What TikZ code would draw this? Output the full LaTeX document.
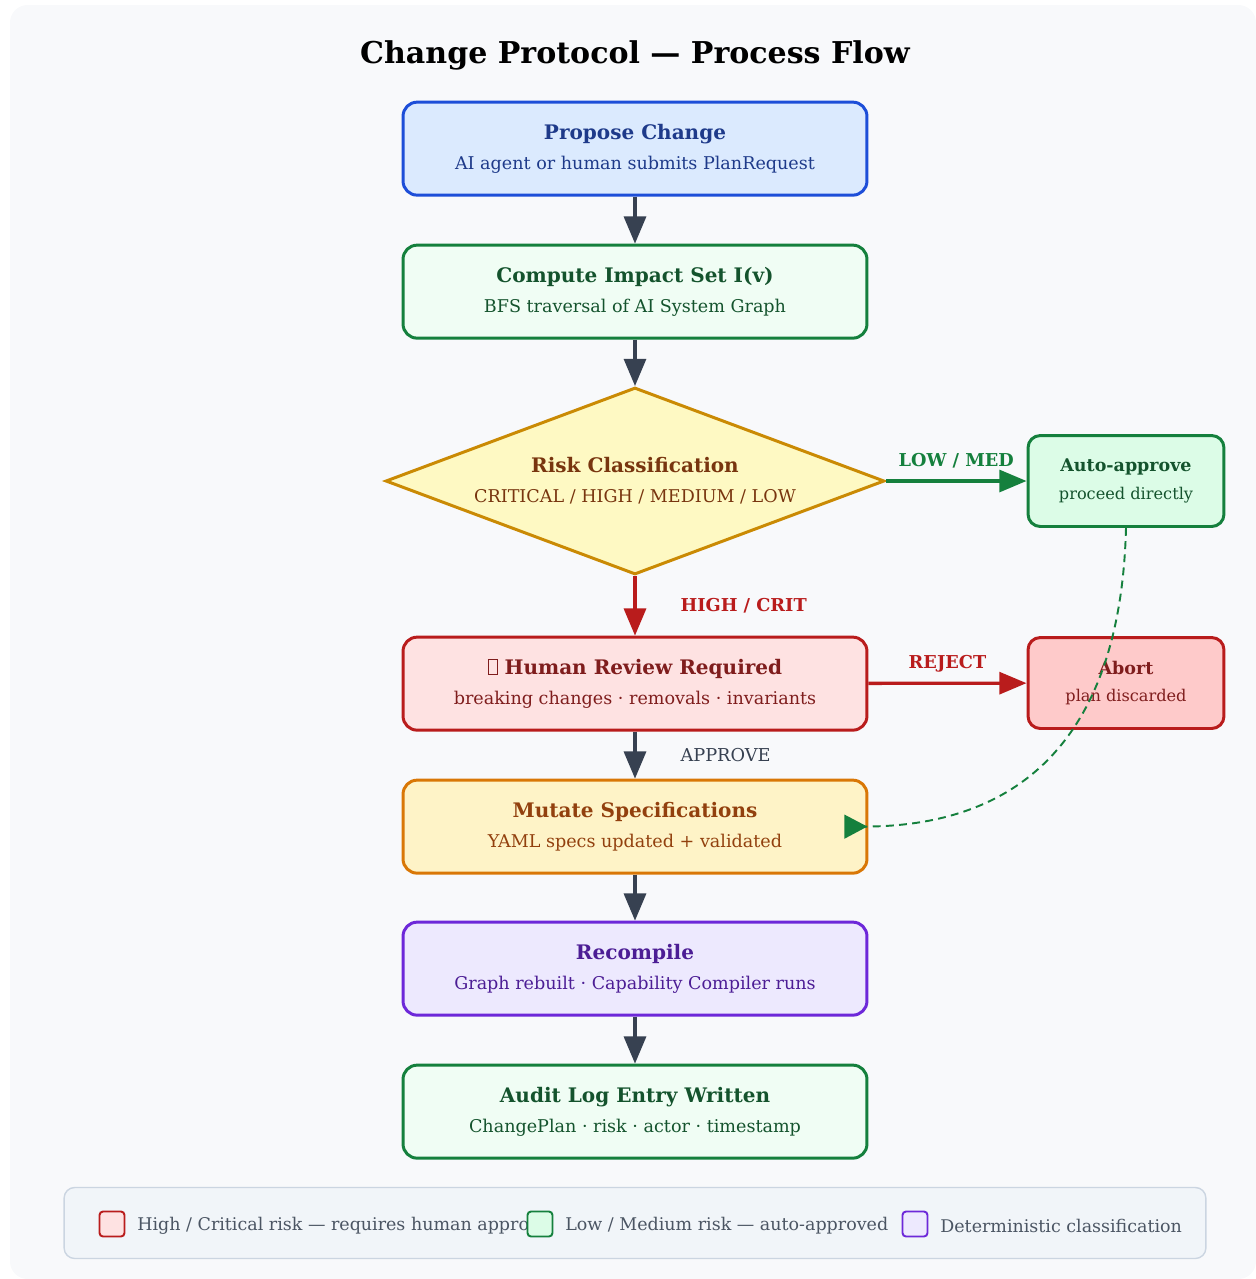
\documentclass[tikz,border=0pt]{standalone}
\usepackage{fontspec}
\setmainfont{DejaVu Serif}
\usetikzlibrary{arrows.meta,shapes.geometric}

\definecolor{pagebg}{HTML}{F8F9FB}
\definecolor{flowgray}{HTML}{374151}
\definecolor{blueline}{HTML}{1D4ED8}\definecolor{bluefill}{HTML}{DBEAFE}\definecolor{bluetext}{HTML}{1E3A8A}
\definecolor{greenline}{HTML}{15803D}\definecolor{greenfill}{HTML}{F0FDF4}\definecolor{greentext}{HTML}{14532D}
\definecolor{autofill}{HTML}{DCFCE7}
\definecolor{yelline}{HTML}{CA8A04}\definecolor{yelfill}{HTML}{FEF9C3}\definecolor{yeltext}{HTML}{78350F}
\definecolor{redline}{HTML}{B91C1C}\definecolor{redfill}{HTML}{FEE2E2}\definecolor{redtext}{HTML}{7F1D1D}
\definecolor{abortfill}{HTML}{FECACA}
\definecolor{orline}{HTML}{D97706}\definecolor{orfill}{HTML}{FEF3C7}\definecolor{ortext}{HTML}{92400E}
\definecolor{purline}{HTML}{6D28D9}\definecolor{purfill}{HTML}{EDE9FE}\definecolor{purtext}{HTML}{4C1D95}
\definecolor{legfill}{HTML}{F1F5F9}\definecolor{legline}{HTML}{CBD5E1}\definecolor{legtext}{HTML}{4B5563}

\newcommand{\boxlines}[2]{{\fontsize{11.4}{14}\bfseries #1}\\[5.2pt]{\fontsize{10}{12}\selectfont #2}}
\newcommand{\smalllines}[2]{{\fontsize{9.95}{12}\bfseries #1}\\[3.6pt]{\fontsize{9.2}{11}\selectfont #2}}
\newcommand{\tofubox}{{\setlength\fboxsep{0pt}\setlength\fboxrule{0.4pt}\fbox{\rule{0pt}{0.72em}\hspace{0.42em}}}}

\tikzset{
  stepbox/.style={draw, rounded corners=8pt, line width=1.7pt, align=center,
    minimum width=9.28cm, minimum height=1.86cm, inner sep=0pt, yshift=-1.5pt},
  sidebox/.style={draw, rounded corners=7pt, line width=1.7pt, align=center,
    minimum width=3.92cm, minimum height=1.82cm, inner sep=0pt},
  flow/.style={line width=1.9pt, -{Triangle[length=15.5pt,width=12.5pt]}},
  edgelabel/.style={font=\fontsize{10.1}{12}\bfseries},
  legsquare/.style={draw, rounded corners=2pt, line width=1.1pt, minimum size=0.5cm, inner sep=0pt},
  legtextstyle/.style={anchor=west, text=legtext, font=\fontsize{9.95}{12}\selectfont, inner sep=0pt}
}

\begin{document}
\begin{tikzpicture}[x=0.02cm,y=-0.02cm]
	\useasboundingbox (0,0) rectangle (1256,1279);
	\fill[pagebg, rounded corners=10pt] (10,5) rectangle (1256,1279);

	\node (title) at (635,55) {\fontsize{17.1}{20}\bfseries Change Protocol — Process Flow};

	% main column
	\node[stepbox, draw=blueline, fill=bluefill, text=bluetext] (propose) at (635,146)
		{\boxlines{Propose Change}{AI agent or human submits PlanRequest}};
	\node[stepbox, draw=greenline, fill=greenfill, text=greentext] (impact) at (635,289)
		{\boxlines{Compute Impact Set I(v)}{BFS traversal of AI System Graph}};
	\node[diamond, draw=yelline, fill=yelfill, line width=1.7pt, inner sep=0pt,
		minimum width=9.98cm, minimum height=3.74cm] (risk) at (635,481) {};
	\node[align=center, text=yeltext] (risktext) at (risk.center)
		{\boxlines{Risk Classification}{CRITICAL / HIGH / MEDIUM / LOW}};
	\node[stepbox, draw=redline, fill=redfill, text=redtext] (review) at (635,681)
		{\boxlines{\tofubox\ Human Review Required}{breaking changes · removals · invariants}};
	\node[stepbox, draw=orline, fill=orfill, text=ortext] (mutate) at (635,824)
		{\boxlines{Mutate Specifications}{YAML specs updated + validated}};
	\node[stepbox, draw=purline, fill=purfill, text=purtext] (recompile) at (635,966)
		{\boxlines{Recompile}{Graph rebuilt · Capability Compiler runs}};
	\node[stepbox, draw=greenline, fill=greenfill, text=greentext] (audit) at (635,1109)
		{\boxlines{Audit Log Entry Written}{ChangePlan · risk · actor · timestamp}};

	% side boxes
	\node[sidebox, draw=greenline, fill=autofill, text=greentext] (auto) at (1126,481)
		{\smalllines{Auto-approve}{proceed directly}};
	\node[sidebox, draw=redline, fill=abortfill, text=redtext] (abort) at (1126,683)
		{\smalllines{Abort}{plan discarded}};

	% connectors
	\draw[flow, flowgray] (propose) -- (impact);
	\draw[flow, flowgray] (impact) -- (risk.north);
	\draw[flow, redline] (risk.south) -- (review)
		node[midway, anchor=west, xshift=0.76cm, edgelabel, text=redline] {HIGH / CRIT};
	\draw[flow, greenline] (risk.east) -- (auto)
		node[midway, above, yshift=3pt, edgelabel, text=greenline] {LOW / MED};
	\draw[flow, redline] (review) -- (abort)
		node[midway, above, yshift=2pt, edgelabel, text=redline] {REJECT};
	\draw[flow, flowgray] (review) -- (mutate)
		node[midway, anchor=west, xshift=0.76cm, text=flowgray, font=\fontsize{10.1}{12}\selectfont] {APPROVE};
	\draw[flow, flowgray] (mutate) -- (recompile);
	\draw[flow, flowgray] (recompile) -- (audit);
	\draw[greenline, line width=1.1pt, dash pattern=on 4.5pt off 3pt,
		-{Triangle[reversed,length=13pt,width=13.5pt]}]
		(auto.south) .. controls (1121,727) and (1030,826) .. ([xshift=-0.48cm]mutate.east);

	% legend
	\node[draw=legline, fill=legfill, rounded corners=6pt, line width=0.8pt,
		minimum width=22.84cm, minimum height=1.42cm, inner sep=0pt] (legend) at (635,1223) {};
	\node[legtextstyle] (legredtext) at (137,1226) {High / Critical risk — requires human appro};
	\node[legsquare, draw=redline, fill=redfill] (legred) at (112,1224) {};
	\node[legtextstyle] (leggreentext) at (565,1226) {Low / Medium risk — auto-approved};
	\node[legsquare, draw=greenline, fill=autofill] (leggreen) at (540,1224) {};
	\node[legtextstyle] (legpurpletext) at (940,1226) {Deterministic classification};
	\node[legsquare, draw=purline, fill=purfill] (legpurple) at (915,1224) {};
\end{tikzpicture}
\end{document}
